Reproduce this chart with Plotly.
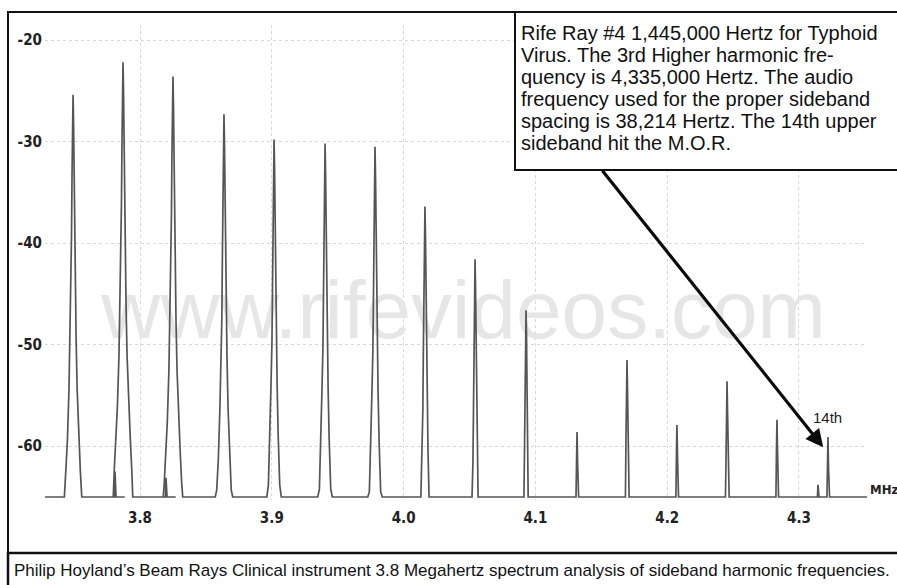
import numpy as np
import plotly.graph_objects as go

# Spectrum analyser readout: carrier region around 3.8 MHz with sideband lines
peak_freq_mhz = [3.7492, 3.7871, 3.8250, 3.8637, 3.9017, 3.9404, 3.9783, 4.0162,
                 4.0542, 4.0929, 4.1316, 4.1695, 4.2074, 4.2454, 4.2833, 4.3220]
peak_level_db = [-25.4, -22.2, -23.6, -27.3, -29.8, -30.2, -30.5, -36.4,
                 -41.6, -46.6, -58.6, -51.5, -57.9, -53.6, -57.4, -59.1]
# small spurs sitting next to the main lines
spur_freq_mhz = [3.7810, 3.8197, 4.3144]
spur_level_db = [-62.5, -63.1, -63.8]
noise_floor_db = -65.0
span_start_mhz, span_stop_mhz = 3.7279, 4.3516

# Resolution filter skirt: half-width (MHz) vs. dB below the line's peak
skirt_halfwidth_mhz = [0.0, 0.0004, 0.0008, 0.0012, 0.0016, 0.0023, 0.0031, 0.0043, 0.0055, 0.0066, 0.0074]
skirt_drop_db = [0.0, 3.0, 8.0, 14.0, 20.0, 24.0, 29.0, 34.0, 37.0, 40.0, 44.0]

x_ticks = [3.8, 3.9, 4.0, 4.1, 4.2, 4.3]
x_tick_text = ["3.8", "3.9", "4.0", "4.1", "4.2", "4.3"]
y_ticks = [-20, -30, -40, -50, -60]
y_tick_text = ["-20", "-30", "-40", "-50", "-60"]

marked_line_index = 15  # the 14th upper sideband

note_lines = ["Rife Ray #4 1,445,000 Hertz for Typhoid",
              "Virus. The 3rd Higher harmonic fre-",
              "quency is 4,335,000 Hertz. The audio",
              "frequency used for the proper sideband",
              "spacing is 38,214 Hertz. The 14th upper",
              "sideband hit the M.O.R."]
caption_text = ("Philip Hoyland\u2019s Beam Rays Clinical instrument 3.8 Megahertz "
                "spectrum analysis of sideband harmonic frequencies.")


def line_shape(f0, level):
    """Trace of one spectral line: the skirt profile mirrored, clipped at the floor."""
    hw = np.array(skirt_halfwidth_mhz)
    drop = np.array(skirt_drop_db)
    xs = np.concatenate([f0 - hw[::-1], f0 + hw[1:]])
    ys = np.concatenate([level - drop[::-1], level - drop[1:]])
    return xs, np.maximum(ys, noise_floor_db)


lines = sorted(list(zip(peak_freq_mhz, peak_level_db)) + list(zip(spur_freq_mhz, spur_level_db)))
trace_x = [span_start_mhz]
trace_y = [noise_floor_db]
for f0, lvl in lines:
    xs, ys = line_shape(f0, lvl)
    trace_x.extend(xs.tolist())
    trace_y.extend(ys.tolist())
trace_x.append(span_stop_mhz)
trace_y.append(noise_floor_db)

# page geometry (pixels) used to place the frame and boxes
W, H = 897, 585
ML, MR, MT, MB = 45, 30, 25, 85
PW, PH = W - ML - MR, H - MT - MB


def px(xp):
    return (xp - ML) / PW


def py(yp):
    return (H - MB - yp) / PH


narrow = "Liberation Sans Narrow, Arial Narrow, DejaVu Sans Condensed, sans-serif"
sans = "Liberation Sans, Arial, Helvetica, sans-serif"

fig = go.Figure()

# faint site watermark behind the trace
fig.add_trace(go.Scatter(
    x=[4.0455], y=[-47.3], mode="text", text=["www.rifevideos.com"],
    textfont=dict(family=sans, size=82, color="#e6e6e6"),
    hoverinfo="skip", showlegend=False, cliponaxis=False))

fig.add_trace(go.Scatter(
    x=trace_x, y=trace_y, mode="lines",
    line=dict(color="#555555", width=1.7),
    showlegend=False, cliponaxis=False))

fig.update_layout(
    width=W, height=H,
    margin=dict(l=ML, r=MR, t=MT, b=MB, autoexpand=False),
    paper_bgcolor="white", plot_bgcolor="white",
    showlegend=False,
    xaxis=dict(range=[span_start_mhz, span_stop_mhz], tickvals=x_ticks, ticktext=x_tick_text,
               showgrid=True, gridcolor="#d8d8d8", griddash="dot", gridwidth=1,
               zeroline=False, showline=False, ticks="", ticklabelstandoff=7,
               tickfont=dict(family=narrow, size=15, color="#222222", weight="bold"),
               automargin=False),
    yaxis=dict(range=[noise_floor_db - 0.295, -18.52], tickvals=y_ticks, ticktext=y_tick_text,
               showgrid=True, gridcolor="#d8d8d8", griddash="dot", gridwidth=1,
               zeroline=False, showline=False, ticks="", ticklabelstandoff=2,
               tickfont=dict(family=narrow, size=15, color="#222222", weight="bold"),
               automargin=False),
)

shapes = [
    # outer frame
    dict(type="rect", xref="paper", yref="paper", x0=px(8), x1=px(900), y0=py(553), y1=py(12),
         line=dict(color="#111111", width=2), fillcolor="rgba(0,0,0,0)", layer="above"),
    # caption panel
    dict(type="rect", xref="paper", yref="paper", x0=px(8), x1=px(900), y0=py(590), y1=py(553),
         line=dict(color="#111111", width=2.5), fillcolor="white", layer="above"),
    # note box
    dict(type="rect", xref="paper", yref="paper", x0=px(515), x1=px(900), y0=py(170), y1=py(12),
         line=dict(color="#111111", width=2), fillcolor="white", layer="above"),
]
fig.update_layout(shapes=shapes)

annotations = []
# note text, one line per row with a tight 22 px leading
for i, txt in enumerate(note_lines):
    annotations.append(dict(
        xref="paper", yref="paper", x=px(519), y=py(33 + 22 * i), xanchor="left", yanchor="middle",
        text=txt, align="left", showarrow=False,
        font=dict(family=sans, size=20, color="#111111")))

annotations += [
    dict(xref="paper", yref="paper", x=px(12), y=py(570), xanchor="left", yanchor="middle",
         text=caption_text, align="left", showarrow=False,
         font=dict(family=sans, size=17, color="#111111")),
    dict(xref="paper", yref="paper", x=px(868), y=py(489), xanchor="left", yanchor="middle",
         text="MHz", showarrow=False,
         font=dict(family=narrow, size=13, color="#222222", weight="bold")),
    dict(x=peak_freq_mhz[marked_line_index], y=peak_level_db[marked_line_index] + 0.9,
         xref="x", yref="y", text="14th", showarrow=False, yanchor="bottom",
         font=dict(family=sans, size=15, color="#222222")),
    # pointer from the note to the marked sideband
    dict(x=peak_freq_mhz[marked_line_index] - 0.0036, y=peak_level_db[marked_line_index] - 1.0,
         xref="x", yref="y", ax=-222, ay=-278, axref="pixel", ayref="pixel",
         text="", showarrow=True, arrowhead=2, arrowsize=1.1, arrowwidth=3.2,
         arrowcolor="#0a0a0a"),
]
fig.update_layout(annotations=annotations)

fig.write_html("out.html")
